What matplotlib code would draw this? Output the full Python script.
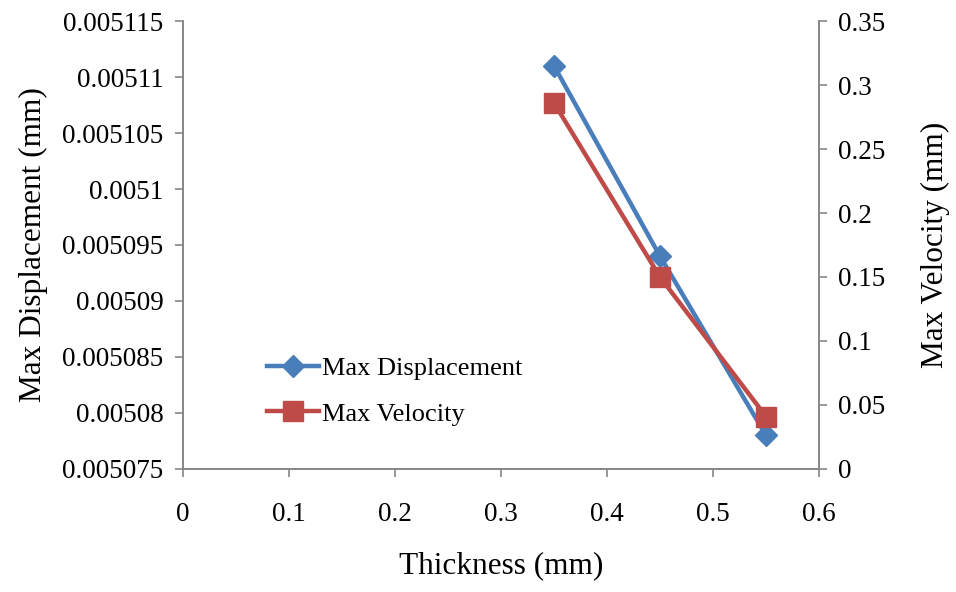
import matplotlib
matplotlib.use("Agg")
import matplotlib.pyplot as plt

thickness = [0.35, 0.45, 0.55]
max_disp = [0.005111, 0.005094, 0.005078]
max_vel = [0.286, 0.150, 0.041]

left_ticks = [0.005075, 0.00508, 0.005085, 0.00509, 0.005095, 0.0051, 0.005105, 0.00511, 0.005115]
left_labels = ["0.005075", "0.00508", "0.005085", "0.00509", "0.005095", "0.0051", "0.005105", "0.00511", "0.005115"]
right_ticks = [0, 0.05, 0.1, 0.15, 0.2, 0.25, 0.3, 0.35]
right_labels = ["0", "0.05", "0.1", "0.15", "0.2", "0.25", "0.3", "0.35"]
x_ticks = [0, 0.1, 0.2, 0.3, 0.4, 0.5, 0.6]
x_labels = ["0", "0.1", "0.2", "0.3", "0.4", "0.5", "0.6"]

plt.rcParams['font.family'] = ['Liberation Serif', 'DejaVu Serif']
blue = '#4A7EBB'
red = '#BE4B48'
grey = '#868686'

fig = plt.figure(figsize=(9.56, 5.92), dpi=100)
ax = fig.add_axes([0.1914, 0.2078, 0.6653, 0.7567])
ax2 = ax.twinx()

l1, = ax.plot(thickness, max_disp, color=blue, lw=3.2, marker='D', ms=11,
              label='Max Displacement', zorder=3)
l2, = ax2.plot(thickness, max_vel, color=red, lw=3.2, marker='s', ms=14,
               label='Max Velocity', zorder=3)

ax.set_xlim(0, 0.6)
ax.set_ylim(0.005075, 0.005115)
ax2.set_ylim(0, 0.35)
ax.set_xticks(x_ticks)
ax.set_xticklabels(x_labels)
ax.set_yticks(left_ticks)
ax.set_yticklabels(left_labels)
ax2.set_yticks(right_ticks)
ax2.set_yticklabels(right_labels)

for a in (ax, ax2):
    a.spines['top'].set_visible(False)
    for s in ('left', 'right', 'bottom'):
        a.spines[s].set_color(grey)
        a.spines[s].set_linewidth(1.2)
    a.tick_params(direction='out', length=6, width=1.2, color=grey, labelsize=19.5, labelcolor='black')
ax.tick_params(axis='x', pad=18)
ax.tick_params(axis='y', pad=8)
ax2.tick_params(axis='y', pad=8)

ax.set_xlabel('Thickness (mm)', fontsize=22.5, labelpad=17)
ax.set_ylabel('Max Displacement (mm)', fontsize=22.5, labelpad=10)
ax2.set_ylabel('Max Velocity (mm)', fontsize=22.5, labelpad=25)

leg = ax.legend([l1, l2], ['Max Displacement', 'Max Velocity'], loc='upper left',
                bbox_to_anchor=(0.115, 0.275), frameon=False, fontsize=19,
                handlelength=2.0, handletextpad=0.1, labelspacing=0.85,
                borderaxespad=0)

fig.savefig('out.png', dpi=100)
